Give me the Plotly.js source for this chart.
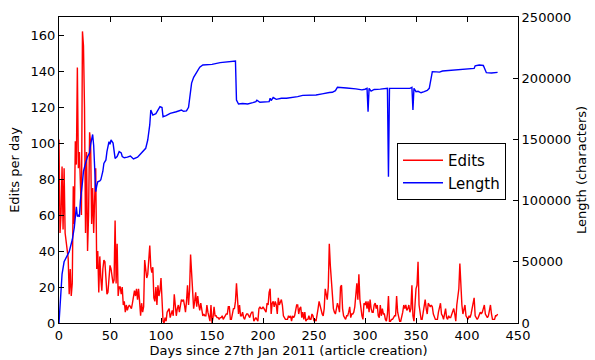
<!DOCTYPE html>
<html>
<head>
<meta charset="utf-8">
<script src="https://cdn.plot.ly/plotly-3.0.1.min.js"></script>
<style>html,body{margin:0;padding:0;background:#fff;}#chart{width:595px;height:360px;}</style>
</head>
<body>
<div id="chart"></div>
<script>
// Edits per day, one value per day starting at day 0
const editsPerDay = [
  102, 50, 60, 87, 52, 86, 50, 45, 38, 36,
  16, 30, 15, 22, 76, 55, 101, 88, 142, 86,
  95, 71, 60, 162, 154, 120, 50, 95, 40, 60,
  106, 100, 55, 75, 50, 70, 86, 30, 40, 17,
  37, 25, 18, 30, 35, 34, 24, 16, 17, 26,
  32, 30, 26, 22, 24, 57, 22, 44, 15, 20,
  20, 16, 20, 10, 12, 6, 10, 7, 9, 10,
  9, 8, 11, 14, 18, 15, 19, 13, 19, 12,
  4, 11, 6, 9, 35, 30, 25, 27, 36, 43,
  31, 28, 31, 14, 12, 20, 10, 21, 15, 18,
  25, 10, 1, 0, 3, 1, 6, 7, 8, 3,
  5, 7, 4, 16, 10, 4, 8, 10, 6, 10,
  13, 12, 13, 10, 6, 12, 21, 10, 18, 38,
  25, 21, 8, 12, 17, 9, 15, 10, 7, 11,
  8, 4, 5, 4, 4, 10, 6, 4, 1, 10,
  0, 3, 9, 4, 4, 3, 3, 2, 3, 3,
  4, 2, 3, 4, 5, 5, 9, 9, 2, 2,
  5, 8, 8, 12, 22, 10, 5, 10, 4, 4,
  6, 3, 2, 4, 5, 5, 4, 3, 5, 6,
  6, 1, 2, 3, 2, 1, 8, 9, 8, 8,
  9, 8, 7, 6, 11, 10, 17, 19, 5, 11,
  12, 9, 12, 10, 5, 14, 10, 12, 13, 10,
  4, 3, 2, 2, 2, 4, 3, 4, 1, 4,
  3, 4, 7, 10, 10, 5, 8, 9, 3, 6,
  2, 6, 1, 2, 2, 4, 2, 2, 5, 4,
  1, 2, 1, 6, 8, 12, 9, 7, 5, 4,
  8, 19, 15, 13, 20, 44, 32, 22, 15, 8,
  6, 5, 8, 11, 9, 6, 20, 21, 8, 4,
  3, 2, 4, 4, 6, 9, 3, 5, 5, 6,
  9, 17, 22, 13, 27, 13, 6, 4, 2, 11,
  10, 12, 8, 12, 6, 13, 8, 6, 6, 10,
  11, 8, 10, 4, 3, 10, 4, 8, 5, 5,
  2, 1, 5, 15, 1, 1, 2, 2, 3, 4,
  4, 15, 6, 4, 1, 1, 3, 6, 10, 8,
  10, 7, 8, 10, 6, 8, 21, 4, 1, 12,
  19, 21, 34, 10, 5, 2, 2, 5, 10, 13,
  8, 5, 11, 10, 9, 10, 9, 5, 3, 2,
  2, 2, 6, 9, 11, 5, 4, 2, 6, 8,
  3, 2, 4, 3, 3, 5, 7, 8, 5, 1,
  10, 16, 19, 33, 17, 10, 5, 8, 10, 4,
  3, 2, 4, 3, 5, 8, 12, 14, 4, 3,
  2, 3, 5, 6, 5, 6, 8, 10, 5, 4,
  3, 4, 7, 10, 5, 2, 2, 2, 4, 4,
  5
];
const editDays = editsPerDay.map((_, i) => i);

// Article length (characters), sampled at these days
const lengthDays = [
  0, 1, 2, 3, 5, 7, 10, 13, 15, 17, 18, 19, 20, 21, 22, 23, 24, 25, 26, 28,
  30, 31, 32, 33, 34, 35, 36, 37, 38, 40, 41, 43, 44, 46, 47, 49, 50, 51, 53, 55,
  57, 59, 61, 62, 64, 67, 70, 73, 77, 79, 82, 85, 87, 89, 90, 91, 92, 95, 97, 99,
  101, 102, 105, 109, 115, 120, 122, 125, 127, 129, 130, 132, 135, 138, 141, 150, 158, 167, 172, 173,
  174, 176, 180, 185, 190, 193, 194, 197, 206, 207, 208, 210, 213, 218, 223, 229, 234, 239, 246, 252,
  258, 260, 265, 268, 271, 273, 275, 282, 291, 297, 300, 302, 303, 304, 306, 309, 315, 320, 322, 323,
  324, 334, 344, 346, 347, 348, 350, 352, 355, 358, 361, 363, 365, 366, 370, 373, 376, 381, 389, 396,
  404, 407, 408, 412, 416, 418, 419, 424, 430
];
const lengthChars = [
  0, 14000, 30000, 40000, 50000, 53000, 58300, 68000, 78000, 95000, 87000, 88000, 86800, 100000, 106000, 115000, 124000, 129000, 130400, 135900,
  139000, 146000, 152000, 154000, 145000, 124000, 107300, 112000, 115400, 116000, 117000, 124000, 130400, 133200, 140000, 148100, 146000, 149500, 147000, 134500,
  136000, 140000, 139000, 136000, 135000, 135500, 136400, 134000, 135500, 137300, 140000, 142700, 149500, 162000, 174000, 172000, 169900, 171000, 174000, 176700,
  176000, 168500, 169500, 171300, 172600, 174000, 173000, 173300, 176200, 190000, 196000, 200700, 204500, 209000, 210800, 211300, 212700, 213500, 214500, 214000,
  182200, 178900, 179300, 178900, 180000, 180800, 182000, 180300, 180800, 183600, 181800, 184200, 182700, 183600, 183600, 184200, 184900, 186000, 186300, 186300,
  187200, 187600, 188300, 188500, 189800, 192600, 192600, 192000, 191300, 190500, 191000, 191700, 172600, 191700, 189500, 190800, 191100, 191500, 191700, 119500,
  191700, 191700, 191700, 192500, 174000, 191800, 189000, 189300, 188100, 189000, 190000, 191700, 200400, 205300, 205200, 205000, 205900, 206200, 206700, 207200,
  207300, 208000, 210100, 210800, 210400, 206000, 204500, 204200, 204800
];

const xTicks = [0, 50, 100, 150, 200, 250, 300, 350, 400, 450];
const yTicks = [0, 20, 40, 60, 80, 100, 120, 140, 160];
const y2Ticks = [0, 50000, 100000, 150000, 200000, 250000];

const FONT = 'DejaVu Sans, sans-serif';

const traces = [
  {
    x: editDays, y: editsPerDay, type: 'scatter', mode: 'lines', name: 'Edits',
    line: {color: '#ff0000', width: 1.4}, yaxis: 'y'
  },
  {
    x: lengthDays, y: lengthChars, type: 'scatter', mode: 'lines', name: 'Length',
    line: {color: '#0000ff', width: 1.4}, yaxis: 'y2'
  }
];

const layout = {
  width: 595, height: 360,
  margin: {l: 59, r: 77, t: 17, b: 37, pad: 0},
  paper_bgcolor: '#ffffff', plot_bgcolor: '#ffffff',
  font: {family: FONT, size: 13, color: '#000'},
  showlegend: true,
  legend: {
    x: 0.7364, y: 0.588, xanchor: 'left', yanchor: 'top',
    bgcolor: '#ffffff', bordercolor: '#000', borderwidth: 1,
    font: {family: FONT, size: 15, color: '#000'},
    itemwidth: 40, tracegroupgap: 0
  },
  xaxis: {
    range: [0, 450], tickvals: xTicks, ticktext: xTicks.map(String),
    ticks: 'inside', ticklen: 5, tickcolor: '#000', tickwidth: 1,
    showline: true, linecolor: '#000', linewidth: 1, mirror: 'ticks',
    showgrid: false, zeroline: false,
    tickfont: {family: FONT, size: 13, color: '#000'},
    title: {text: 'Days since 27th Jan 2011 (article creation)', font: {family: FONT, size: 13, color: '#000'}, standoff: 2}
  },
  yaxis: {
    range: [0, 170], tickvals: yTicks, ticktext: yTicks.map(String),
    ticks: 'inside', ticklen: 5, tickcolor: '#000', tickwidth: 1,
    showline: true, linecolor: '#000', linewidth: 1,
    showgrid: false, zeroline: false,
    tickfont: {family: FONT, size: 13, color: '#000'},
    title: {text: 'Edits per day', font: {family: FONT, size: 13, color: '#000'}, standoff: 8}
  },
  yaxis2: {
    range: [0, 250000], tickvals: y2Ticks, ticktext: y2Ticks.map(String),
    overlaying: 'y', side: 'right',
    ticks: 'inside', ticklen: 5, tickcolor: '#000', tickwidth: 1,
    showline: true, linecolor: '#000', linewidth: 1,
    showgrid: false, zeroline: false,
    tickfont: {family: FONT, size: 13, color: '#000'},
    title: {text: 'Length (characters)', font: {family: FONT, size: 13, color: '#000'}, standoff: 6}
  }
};

Plotly.newPlot('chart', traces, layout, {displayModeBar: false, staticPlot: true});
</script>
</body>
</html>
